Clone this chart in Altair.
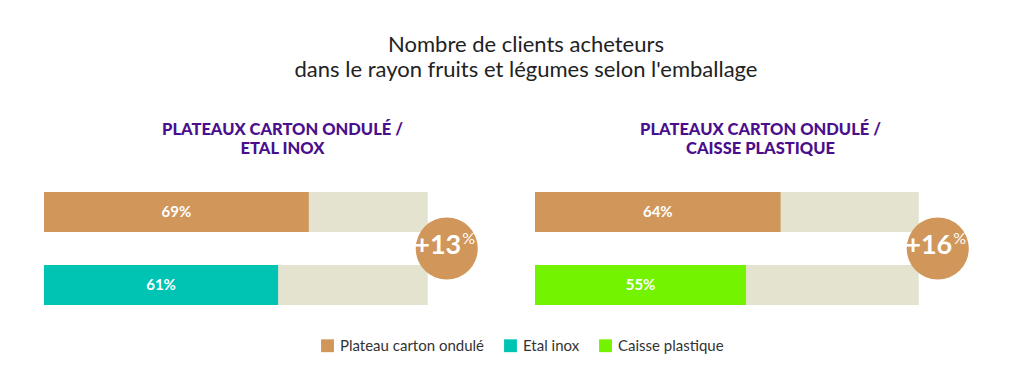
import altair as alt
import pandas as pd

# ---- data ----
categories = ["Plateau carton ondulé", "Etal inox", "Caisse plastique"]
cat_colors = ["#D0965A", "#00C4B3", "#73F300"]
rows = ["haut", "bas"]

left_cats = ["Plateau carton ondulé", "Etal inox"]
left_values = [69, 61]
left_diff = "+13"
left_title = ["PLATEAUX CARTON ONDULÉ /", "ETAL INOX"]

right_cats = ["Plateau carton ondulé", "Caisse plastique"]
right_values = [64, 55]
right_diff = "+16"
right_title = ["PLATEAUX CARTON ONDULÉ /", "CAISSE PLASTIQUE"]

full_scale = [100, 100]

main_title = ["Nombre de clients acheteurs",
              "dans le rayon fruits et légumes selon l'emballage"]

BG = "#E3E3CF"
ORANGE = "#D0965A"
PURPLE = "#4A0F8C"
FONT = "Lato"


def panel(cats, values, diff, title, title_dx):
    df = pd.DataFrame({
        "row": rows,
        "cat": cats,
        "value": values,
        "full": full_scale,
        "label": [f"{v}%" for v in values],
    })
    xs = alt.Scale(domain=[0, 117], nice=False, zero=True)
    ys = alt.Scale(domain=rows, paddingInner=0.452, paddingOuter=0)
    base = alt.Chart(df)
    bg = base.mark_bar(color=BG).encode(
        x=alt.X("full:Q", scale=xs, axis=None),
        y=alt.Y("row:N", scale=ys, axis=None),
    )
    bars = base.mark_bar().encode(
        x=alt.X("value:Q", scale=xs, axis=None),
        y=alt.Y("row:N", scale=ys, axis=None),
        color=alt.Color(
            "cat:N",
            scale=alt.Scale(domain=categories, range=cat_colors),
            legend=alt.Legend(
                title=None, orient="none", direction="horizontal",
                legendX=276, legendY=146,
                symbolType="square", symbolSize=165, symbolStrokeWidth=0,
                labelFont=FONT, labelFontSize=15, labelColor="#333333",
                labelOffset=5, columnPadding=18,
            ),
        ),
    )
    labels = base.transform_calculate(mid="datum.value / 2").mark_text(
        font=FONT, fontSize=15, fontWeight="bold", color="white"
    ).encode(
        x=alt.X("mid:Q", scale=xs, axis=None),
        y=alt.Y("row:N", scale=ys, axis=None),
        text="label:N",
    )
    cdf = pd.DataFrame({"row": [rows[0]], "full": [100], "diff": [diff], "pct": ["%"]})
    cbase = alt.Chart(cdf)
    enc = dict(x=alt.X("full:Q", scale=xs, axis=None),
               y=alt.Y("row:N", scale=ys, axis=None))
    circ = cbase.mark_circle(size=3850, color=ORANGE, opacity=1,
                             xOffset=19, yOffset=36.5).encode(**enc)
    dtext = cbase.mark_text(font=FONT, fontSize=27, fontWeight="bold",
                            color="white", xOffset=10, yOffset=34,
                            baseline="middle").encode(text="diff:N", **enc)
    ptext = cbase.mark_text(font=FONT, fontSize=16, fontWeight="normal",
                            color="white", xOffset=41, yOffset=27,
                            baseline="middle").encode(text="pct:N", **enc)
    return alt.layer(bg, bars, labels, circ, dtext, ptext).properties(
        width=449, height=113,
        title=alt.TitleParams(
            title, font=FONT, fontSize=16.5, fontWeight=900, color=PURPLE,
            lineHeight=19, anchor="middle", dx=title_dx, offset=35,
        ),
    )


left = panel(left_cats, left_values, left_diff, left_title, 14)
right = panel(right_cats, right_values, right_diff, right_title, 1)

chart = alt.hconcat(left, right, spacing=42).resolve_scale(
    color="shared"
).properties(
    title=alt.TitleParams(
        main_title, font=FONT, fontSize=22, fontWeight="normal",
        color="#222222", lineHeight=25, anchor="middle", dx=12, offset=40,
    ),
    padding={"left": 36, "top": 25, "right": 0, "bottom": 0},
).configure_view(stroke=None)

chart.save("out.html", embed_options={"renderer": "svg", "actions": False})
